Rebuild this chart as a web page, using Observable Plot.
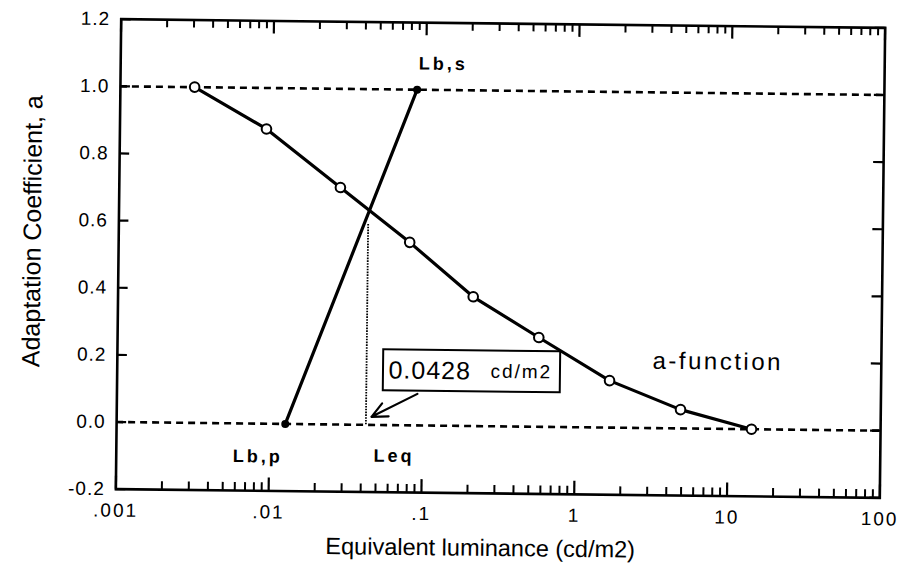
<!DOCTYPE html>
<html>
<head>
<meta charset="utf-8">
<script src="https://cdn.jsdelivr.net/npm/d3@7"></script>
<script src="https://cdn.jsdelivr.net/npm/@observablehq/plot@0.6"></script>
<style>
  html, body { margin: 0; padding: 0; background: #fff; }
  #chart { width: 900px; height: 571px; overflow: hidden; }
  #chart svg { transform: rotate(0.65deg); transform-origin: 500px 258px; }
</style>
</head>
<body>
<div id="chart"></div>
<script>
// ---------- data ----------
const aFunctionX = [0.00306, 0.0091, 0.0280, 0.0803, 0.211, 0.571, 1.67, 4.89, 14.3];
const aFunctionY = [1.0, 0.878, 0.706, 0.545, 0.385, 0.266, 0.140, 0.056, 0.0];
const lbX = [0.0127, 0.0875];          // Lb,p , Lb,s
const lbY = [0.0, 1.0];
const lbLabels = ["Lb,p", "Lb,s"];
const leqValue = 0.0428;
const leqTop = 0.60;
const refLevels = [0, 1];
const xMajorTicks = [0.001, 0.01, 0.1, 1, 10, 100];
const xTickLabels = [".001", ".01", ".1", "1", "10", "100"];
const xMinorMultipliers = [2, 3, 4, 5, 6, 7, 8, 9];
const yTicks = [-0.2, 0, 0.2, 0.4, 0.6, 0.8, 1.0, 1.2];
const yTickLabels = ["-0.2", "0.0", "0.2", "0.4", "0.6", "0.8", "1.0", "1.2"];
const xLabel = "Equivalent luminance (cd/m2)";
const yLabel = "Adaptation Coefficient, a";
const curveLabel = "a-function";
const leqLabel = "Leq";
const boxValueText = "0.0428";
const boxUnitText = "cd/m2";
// annotation anchors (data units)
const leqBox = {x1: 0.0553, x2: 0.796, y1: 0.102, y2: 0.224};
const leqArrow = {x1: 0.0926, y1: 0.094, x2: 0.0465, y2: 0.024};
const curveLabelAt = {x: 8.5, y: 0.2};

// ---------- derived tables ----------
const aData = aFunctionX.map((x, i) => ({x, y: aFunctionY[i]}));
const lbData = lbX.map((x, i) => ({x, y: lbY[i], label: lbLabels[i]}));
const xMinorTicks = xMajorTicks.slice(0, -1).flatMap(d => xMinorMultipliers.map(m => d * m));

const W = 900, H = 571;
const mL = 118, mR = 18, mT = 23, mB = 78;
const fW = W - mL - mR, fH = H - mT - mB;
const font = "'Liberation Sans', Arial, Helvetica, sans-serif";

const chart = Plot.plot({
  width: W, height: H,
  marginLeft: mL, marginRight: mR, marginTop: mT, marginBottom: mB,
  style: {fontFamily: font, fontSize: "19px", color: "black", background: "white"},
  x: {type: "log", domain: [0.001, 100]},
  y: {domain: [-0.2, 1.2]},
  marks: [
    // reference dashed lines
    Plot.ruleY(refLevels, {strokeDasharray: "7,5", strokeWidth: 2.6}),
    // Leq dotted line
    Plot.ruleX([leqValue], {y1: 0, y2: leqTop, strokeDasharray: "1.6,1.2", strokeWidth: 1.8}),
    // Lb line
    Plot.line(lbData, {x: "x", y: "y", strokeWidth: 3.2}),
    // a-function
    Plot.line(aData, {x: "x", y: "y", strokeWidth: 3.2}),
    Plot.dot(aData, {x: "x", y: "y", r: 4.8, fill: "white", stroke: "black", strokeWidth: 2}),
    Plot.dot(lbData, {x: "x", y: "y", r: 4, fill: "black"}),
    Plot.frame({strokeWidth: 2.6}),
    // ticks (inward)
    Plot.ruleX(xMajorTicks, {x: d => d, insetTop: fH - 13, strokeWidth: 2.2}),
    Plot.ruleX(xMajorTicks, {x: d => d, insetBottom: fH - 13, strokeWidth: 2.2}),
    Plot.ruleX(xMinorTicks, {x: d => d, insetTop: fH - 8, strokeWidth: 2}),
    Plot.ruleX(xMinorTicks, {x: d => d, insetBottom: fH - 8, strokeWidth: 2}),
    Plot.ruleY(yTicks, {y: d => d, insetRight: fW - 10, strokeWidth: 2.2}),
    Plot.ruleY(yTicks, {y: d => d, insetLeft: fW - 10, strokeWidth: 2.2}),
    // axes labels
    Plot.axisX(xMajorTicks, {tickSize: 0, tickPadding: 14, fontSize: 19, label: null,
      tickFormat: d => xTickLabels[xMajorTicks.indexOf(d)]}),
    Plot.axisY(yTicks, {tickSize: 0, tickPadding: 11, fontSize: 19, label: null,
      tickFormat: d => yTickLabels[yTicks.indexOf(d)]}),
    Plot.text([xLabel], {frameAnchor: "bottom", dx: -17, dy: 55, lineAnchor: "middle", textAnchor: "middle", fontSize: 23.5, text: d => d}),
    Plot.text([yLabel], {frameAnchor: "left", dx: -86, dy: -22, rotate: -90, textAnchor: "middle", lineAnchor: "middle", fontSize: 25, text: d => d}),
    // point labels
    Plot.text([lbData[1]], {x: "x", y: "y", text: "label", dx: 26, dy: -26, fontSize: 18, fontWeight: "bold", className: "bold-labels"}),
    Plot.text([lbData[0]], {x: "x", y: "y", text: "label", dx: -27, dy: 33, fontSize: 18, fontWeight: "bold", className: "bold-labels"}),
    Plot.text([leqValue], {x: d => d, y: () => 0, text: () => leqLabel, dx: 8, dy: 31, textAnchor: "start", fontSize: 18, fontWeight: "bold", className: "bold-labels"}),
    Plot.text([curveLabelAt], {x: "x", y: "y", text: () => curveLabel, fontSize: 24, className: "curve-label"}),
    // Leq value box
    Plot.rect([leqBox], {x1: "x1", x2: "x2", y1: "y1", y2: "y2", fill: "white", stroke: "black", strokeWidth: 2}),
    Plot.text([leqBox], {x: "x1", y: d => (d.y1 + d.y2) / 2, text: () => boxValueText, dx: 5, textAnchor: "start", fontSize: 25, className: "box-value"}),
    Plot.text([leqBox], {x: "x1", y: d => (d.y1 + d.y2) / 2, text: () => boxUnitText, dx: 107, textAnchor: "start", fontSize: 19, className: "box-unit"}),
    Plot.arrow([leqArrow], {x1: "x1", y1: "y1", x2: "x2", y2: "y2", strokeWidth: 2.2, headLength: 12, headAngle: 50})
  ]
});

document.getElementById("chart").appendChild(chart);
const svg = d3.select(chart);
svg.selectAll("g[aria-label='x-axis tick label'] text").attr("letter-spacing", "2px");
svg.selectAll("g[aria-label='y-axis tick label'] text").attr("letter-spacing", "1px");
svg.selectAll(".bold-labels text").attr("letter-spacing", "3px");
svg.selectAll(".curve-label text").attr("letter-spacing", "2.5px");
svg.selectAll(".box-value text").attr("letter-spacing", "1px");
svg.selectAll(".box-unit text").attr("letter-spacing", "2px");
</script>
</body>
</html>
